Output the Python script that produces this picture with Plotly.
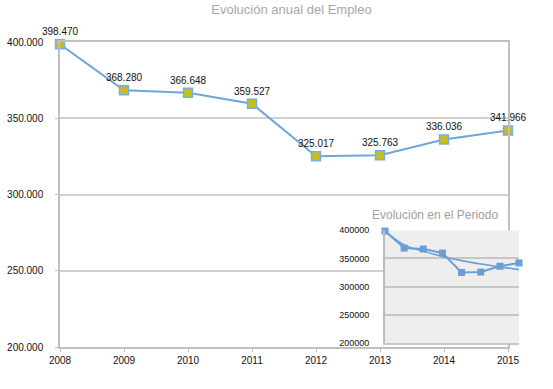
import plotly.graph_objects as go

years = [2008, 2009, 2010, 2011, 2012, 2013, 2014, 2015]
empleo = [398470, 368280, 366648, 359527, 325017, 325763, 336036, 341966]
# trend line
tendencia = [398500, 374000, 362500, 353500, 346000, 340000, 335000, 330000]
main_ticks = [200000, 250000, 300000, 350000, 400000]
y_range = [200000, 400000]
x_range = [years[0], years[-1]]

W, H = 553, 389
L, R, T, B = 60, 30, 42, 41.5
pw = W - L - R
ph = H - T - B

def px_x(px):
    return (px - L) / pw

def px_y(py):
    return (H - B - py) / ph

labels = [f"{v:,}".replace(",", ".") for v in empleo]

line_col = "#6ea6dc"
fig = go.Figure()
fig.add_trace(go.Scatter(
    x=years, y=empleo, mode="lines+markers+text",
    text=labels, textposition="top center",
    textfont=dict(family="Liberation Sans, Arial", size=10, color="#111111"),
    line=dict(color=line_col, width=2),
    marker=dict(symbol="square", size=9, color="#c5be1e",
                line=dict(color="#7aaedc", width=1.5)),
    cliponaxis=False, xaxis="x", yaxis="y", showlegend=False,
))

inset_col = "#6a9fd6"
fig.add_trace(go.Scatter(
    x=years, y=tendencia, mode="lines", line=dict(color=inset_col, width=1.6, shape="spline"),
    xaxis="x2", yaxis="y2", showlegend=False, cliponaxis=False,
))
fig.add_trace(go.Scatter(
    x=years, y=empleo, mode="lines+markers",
    line=dict(color=inset_col, width=2),
    marker=dict(symbol="square", size=7, color=inset_col),
    xaxis="x2", yaxis="y2", showlegend=False, cliponaxis=False,
))

grid = "#d0d0d0"
axis_line = "#c0c0c0"
tickfont = dict(family="Liberation Sans, Arial", size=10, color="#111111")

ix0, ix1 = px_x(385), px_x(519)
iy0, iy1 = px_y(343.5), px_y(230.5)

xspan = x_range[1] - x_range[0]
yspan = y_range[1] - y_range[0]

fig.update_layout(
    width=W, height=H,
    margin=dict(l=L, r=R, t=T, b=B, autoexpand=False),
    paper_bgcolor="white", plot_bgcolor="rgba(0,0,0,0)",
    separators=",.",
    title=dict(text="Evolución anual del Empleo", x=0.5, xref="paper",
               y=1 - 9 / H, yref="container", yanchor="middle", xanchor="center",
               font=dict(family="Liberation Sans, Arial", size=13, color="#a8a8a8")),
    xaxis=dict(domain=[0, px_x(508)], range=x_range, tickvals=years,
               showgrid=False, showline=True, linecolor=axis_line, linewidth=1.5,
               mirror=True, ticks="outside", ticklen=3, tickcolor=axis_line,
               tickfont=tickfont, zeroline=False, automargin=False),
    yaxis=dict(domain=[0, 1], range=y_range, tickvals=main_ticks,
               tickformat=",d", showgrid=True, gridcolor=grid, gridwidth=1.5,
               showline=True, linecolor=axis_line, linewidth=1.5, mirror=True,
               ticks="outside", ticklen=3, tickcolor=axis_line,
               ticklabelstandoff=10, tickfont=tickfont, zeroline=False,
               automargin=False),
    xaxis2=dict(domain=[ix0, ix1], anchor="y2", range=x_range,
                showticklabels=False, showgrid=False, showline=True,
                linecolor="#c8c8c8", linewidth=1.5, ticks="", zeroline=False,
                automargin=False),
    yaxis2=dict(domain=[iy0, iy1], anchor="x2", range=y_range,
                dtick=50000, tickformat="d", showgrid=True, gridcolor="#c6c6c6",
                gridwidth=1.5, showline=True, linecolor="#bdbdbd", linewidth=2,
                ticks="", ticklabelstandoff=12, zeroline=False, automargin=False,
                tickfont=dict(family="Liberation Sans, Arial", size=9, color="#111111")),
    shapes=[
        dict(type="rect", xref="x2", yref="y2",
             x0=x_range[0], x1=x_range[1], y0=y_range[0], y1=y_range[1], layer="below",
             fillcolor="#eeeeee", line=dict(width=0)),
        dict(type="rect", xref="x2", yref="y2",
             x0=x_range[0] - 0.02 * xspan, x1=x_range[1] + 0.02 * xspan,
             y0=y_range[1], y1=y_range[1] + 0.07 * yspan, layer="below",
             fillcolor="white", line=dict(width=0)),
    ],
    annotations=[
        dict(text="Evolución en el Periodo", xref="x2 domain", yref="y2 domain",
             x=(435 - 385) / 134, y=(343.5 - 215) / 113, showarrow=False,
             xanchor="center", yanchor="middle",
             font=dict(family="Liberation Sans, Arial", size=12, color="#a0a0a0")),
    ],
)

fig.write_html("out.html", config={"displayModeBar": False},
               post_script="document.body.style.margin='0';document.body.style.overflow='hidden';")
